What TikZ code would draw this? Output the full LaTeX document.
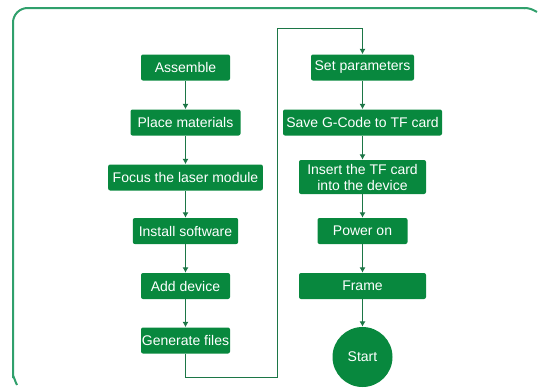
\documentclass[tikz,border=0pt]{standalone}
\usepackage{fontspec}
\setmainfont{Liberation Sans}
\usetikzlibrary{arrows.meta}
\definecolor{vert}{RGB}{8,136,62}
\definecolor{vertcadre}{RGB}{48,160,108}
\definecolor{vertfleche}{RGB}{28,118,70}
\begin{document}
\begin{tikzpicture}[x=0.75pt, y=-0.75pt]
			\tikzset{etape/.style={rectangle, rounded corners=1.5pt, fill=vert, text=white, inner sep=0pt, minimum height=19.5pt, font=\fontsize{10.5}{12}\selectfont}, fleche/.style={-{Latex[length=4pt, width=4.5pt]}, vertfleche, line width=0.75pt}, cadre/.style={vertcadre, line width=1.5pt}};

			\useasboundingbox (0,0) rectangle (538,390);

			% cadre
			\draw[cadre, rounded corners=11pt] (525,8) -- (13,8) -- (13,378);
			\draw[cadre] (524,8) to[out=0, in=150] (537,12);
			\draw[cadre] (13,377) to[out=90, in=120] (17,385);

			\node[etape, minimum width=66.75pt] (assemble)   at (185.5, 67.5) {Assemble};
			\node[etape, minimum width=82.5pt]  (materiaux)  at (185.5,122.5) {Place materials};
			\node[etape, minimum width=116pt]   (focus)      at (185.5,177.5) {Focus the laser module};
			\node[etape, minimum width=79pt]    (logiciel)   at (185.5,231)   {Install software};
			\node[etape, minimum width=66.75pt] (appareil)   at (185.5,286)   {Add device};
			\node[etape, minimum width=66.75pt] (fichiers)   at (185.5,340.5) {Generate files};

			\node[etape, minimum width=77.25pt] (parametres) at (362.5, 67.5) {Set parameters};
			\node[etape, minimum width=119.25pt] (gcode)     at (362.5,122.5) {Save G-Code to TF card};
			\node[etape, minimum width=95.25pt, minimum height=25.5pt, align=center] (carte) at (362.5,177) {Insert the TF card\\into the device};
			\node[etape, minimum width=67.5pt]  (allumer)    at (362.5,231)   {Power on};
			\node[etape, minimum width=95.25pt] (cadrage)    at (362.5,286)   {Frame};
			\node[etape, circle, minimum size=45pt] (depart) at (362.5,357)   {Start};

			\coordinate (bas)  at (185.5,377);
			\coordinate (haut) at (277,28);

			\draw[fleche] (assemble) -- (materiaux);
			\draw[fleche] (materiaux) -- (focus);
			\draw[fleche] (focus) -- (logiciel);
			\draw[fleche] (logiciel) -- (appareil);
			\draw[fleche] (appareil) -- (fichiers);
			\draw[fleche] (fichiers) -- (bas) -| (haut) -| (parametres);
			\draw[fleche] (parametres) -- (gcode);
			\draw[fleche] (gcode) -- (carte);
			\draw[fleche] (carte) -- (allumer);
			\draw[fleche] (allumer) -- (cadrage);
			\draw[fleche] (cadrage) -- (depart);

		\end{tikzpicture}
\end{document}
